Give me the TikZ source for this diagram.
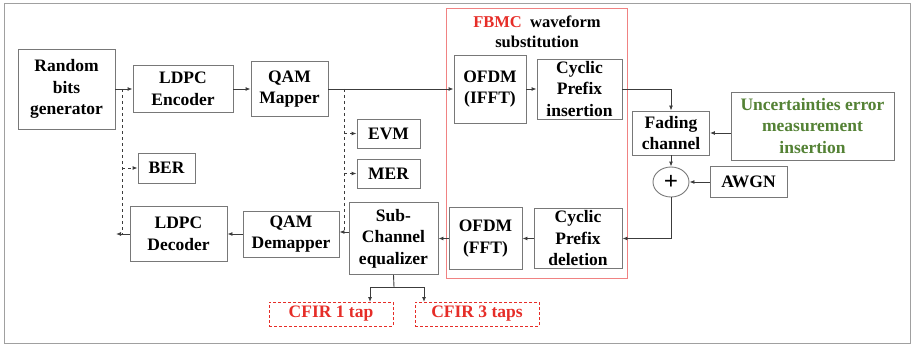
\documentclass[tikz,border=0pt]{standalone}
\usepackage{fontspec}
\setmainfont{Liberation Serif}
\usepackage{xcolor}
\usetikzlibrary{arrows.meta,shapes.geometric}
\definecolor{boxgray}{RGB}{120,120,120}
\definecolor{linegray}{RGB}{60,60,60}
\definecolor{fbmcred}{RGB}{230,45,40}
\definecolor{fbmcline}{RGB}{240,130,130}
\definecolor{uncgreen}{RGB}{84,130,53}
\tikzset{
	every path/.style={line width=0.9pt},
	blk/.style={draw=boxgray,fill=white,align=center,inner sep=0pt,
		font=\fontsize{17.5}{21.5}\selectfont\bfseries},
	arr/.style={draw=linegray,-{Latex[length=5pt,width=4pt]}},
	dasharr/.style={arr,dashed},
	cfir/.style={blk,draw=fbmcred,densely dashed,text=fbmcred,minimum width=124,minimum height=24}
}

\begin{document}
\begin{tikzpicture}[x=1pt,y=-1pt]
\useasboundingbox (0,0) rectangle (911,345);
\draw[boxgray!70] (4,3) rectangle (910,343);

% FBMC part
\draw[fbmcline] (446,8) rectangle (627,278);
\node[font=\fontsize{16.5}{20}\selectfont\bfseries,align=center] (fbmc) at (537,32)
	{\textcolor{fbmcred}{FBMC}\ \ waveform\\substitution};

% transmitter
\node[blk,minimum width=97,minimum height=80] (gen) at (66.5,89) {Random\\bits\\generator};
\node[blk,minimum width=100,minimum height=47] (enc) at (183,89) {LDPC\\Encoder};
\node[blk,minimum width=77,minimum height=55] (map) at (289.5,89) {QAM\\Mapper};
\node[blk,minimum width=72,minimum height=68] (ifft) at (490,89) {OFDM\\(IFFT)};
\node[blk,minimum width=85,minimum height=60] (cpins) at (579.5,89) {Cyclic\\Prefix\\insertion};

% channel
\node[blk,minimum width=77,minimum height=44] (fad) at (671,133) {Fading\\channel};
\node[blk,text=uncgreen,minimum width=163,minimum height=68] (unc) at (812.5,126)
	{Uncertainties error\\measurement\\insertion};
\node[draw=boxgray,ellipse,minimum width=36,minimum height=30,inner sep=0pt,
	font=\fontsize{25}{25}\selectfont\bfseries] (plus) at (671,182) {+};
\node[blk,minimum width=77,minimum height=31] (awgn) at (748.5,182) {AWGN};

% receiver
\node[blk,minimum width=88,minimum height=60] (cpdel) at (578,238.5) {Cyclic\\Prefix\\deletion};
\node[blk,minimum width=73,minimum height=62] (fft) at (485.5,238.5) {OFDM\\(FFT)};
\node[blk,minimum width=89,minimum height=72] (eq) at (393.5,238.5) {Sub-\\Channel\\equalizer};
\node[blk,minimum width=96,minimum height=46] (demap) at (291,234) {QAM\\Demapper};
\node[blk,minimum width=97,minimum height=55] (dec) at (178.5,234) {LDPC\\Decoder};

% measurements
\node[blk,minimum width=57,minimum height=30] (ber) at (166.5,168) {BER};
\node[blk,minimum width=63,minimum height=29] (evm) at (388.5,133.5) {EVM};
\node[blk,minimum width=63,minimum height=29] (mer) at (388.5,173.5) {MER};

\node[cfir] (cfir1) at (331,314) {CFIR 1 tap};
\node[cfir] (cfir3) at (477,314) {CFIR 3 taps};

% arrows
\draw[arr] (gen) -- (enc);
\draw[arr] (enc) -- (map);
\draw[arr] (map) -- (ifft);
\draw[arr] (ifft) -- (cpins);
\draw[arr] (cpins.east) -| (fad.north);
\draw[arr] (unc.west |- fad) -- (fad.east);
\draw[arr] (fad) -- (plus);
\draw[arr] (awgn) -- (plus);
\draw[arr] (plus.south) |- (cpdel.east);
\draw[arr] (cpdel) -- (fft);
\draw[arr] (fft) -- (eq);
\draw[arr] (eq.west |- 0,232) -- (demap.east |- 0,232);
\draw[arr] (demap) -- (dec);
\coordinate (sink) at (116,234);
\draw[arr] (dec) -- (sink);

\coordinate (tapA) at (122,89);
\coordinate (tapB) at (344,89);
\draw[linegray,dashed] (tapA) -- (tapA |- sink);
\draw[dasharr] (tapA |- ber) -- (ber);
\draw[linegray,dashed] (tapB) -- (tapB |- 0,232);
\draw[dasharr] (tapB |- evm) -- (evm);
\draw[dasharr] (tapB |- mer) -- (mer);

\coordinate (fork) at (394,287);
\draw[linegray] (eq.south) -- (fork);
\draw[arr] (fork) -| (370,302);
\draw[arr] (fork) -| (424,302);
\end{tikzpicture}
\end{document}
